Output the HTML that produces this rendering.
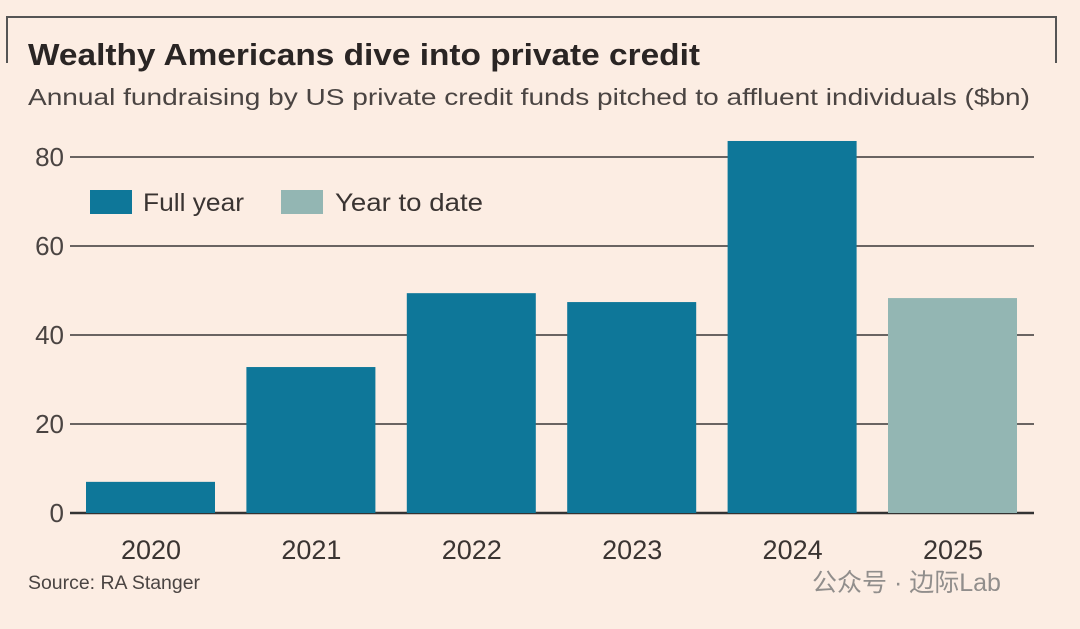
<!DOCTYPE html>
<html><head><meta charset="utf-8"><style>
body{margin:0;width:1080px;height:629px;background:#fcede3;overflow:hidden;font-family:"Liberation Sans","Noto Sans CJK SC",sans-serif;}
svg{display:block}
</style></head><body>
<svg width="1080" height="629">
<path d="M7,63 V17 H1056 V63" fill="none" stroke="#555" stroke-width="2"/>
<text x="28" y="65" font-size="31" font-weight="bold" fill="#2a2524" textLength="672" lengthAdjust="spacingAndGlyphs">Wealthy Americans dive into private credit</text>
<text x="28" y="105" font-size="23" fill="#4a4442" textLength="1002" lengthAdjust="spacingAndGlyphs">Annual fundraising by US private credit funds pitched to affluent individuals ($bn)</text>
<g id="grid"></g>
<g id="bars"></g>
<g id="xlabels"></g>
<g>
<rect x="90" y="190" width="42" height="24" fill="#0e7799"/>
<text x="143" y="211" font-size="25" fill="#3a3432" textLength="101" lengthAdjust="spacingAndGlyphs">Full year</text>
<rect x="281" y="190" width="42" height="24" fill="#93b6b3"/>
<text x="335" y="211" font-size="25" fill="#3a3432" textLength="148" lengthAdjust="spacingAndGlyphs">Year to date</text>
</g>
<text x="28" y="589" font-size="19" fill="#4a4442" textLength="172" lengthAdjust="spacingAndGlyphs">Source: RA Stanger</text>
<text x="812" y="591" font-size="25" fill="#777" opacity="0.8">公众号 · 边际Lab</text>
</svg>
<script>
const categories=["2020","2021","2022","2023","2024","2025"];
const values=[7.0,32.8,49.4,47.4,83.6,48.3];
const yearToDate=[false,false,false,false,false,true];
const yTicks=[0,20,40,60,80];
const NS="http://www.w3.org/2000/svg";
const y=v=>513-v*4.45;
const x=i=>86+i*160.4;
const grid=document.getElementById('grid'),bars=document.getElementById('bars'),xl=document.getElementById('xlabels');
yTicks.forEach(t=>{
 const l=document.createElementNS(NS,'line');
 l.setAttribute('x1',70);l.setAttribute('x2',1034);l.setAttribute('y1',y(t));l.setAttribute('y2',y(t));
 l.setAttribute('stroke',t===0?'#333':'#6a6462');l.setAttribute('stroke-width',t===0?2.5:2);
 
 
 grid.appendChild(l);
 const tx=document.createElementNS(NS,'text');
 tx.setAttribute('x',64);tx.setAttribute('y',y(t)+9);tx.setAttribute('text-anchor','end');
 tx.setAttribute('font-size',26);tx.setAttribute('fill','#4a4442');tx.textContent=t;
 
 
 grid.appendChild(tx);
});
categories.forEach((c,i)=>{
 const r=document.createElementNS(NS,'rect');
 r.setAttribute('x',x(i));r.setAttribute('width',129);r.setAttribute('y',y(values[i]));
 r.setAttribute('height',y(0)-y(values[i]));r.setAttribute('fill',yearToDate[i]?'#93b6b3':'#0e7799');
 
 
 bars.appendChild(r);
 const tx=document.createElementNS(NS,'text');
 tx.setAttribute('x',x(i)+65);tx.setAttribute('y',559);tx.setAttribute('text-anchor','middle');
 tx.setAttribute('font-size',27);tx.setAttribute('fill','#3a3432');tx.textContent=c;
 
 
 xl.appendChild(tx);
});
</script>
</body></html>
